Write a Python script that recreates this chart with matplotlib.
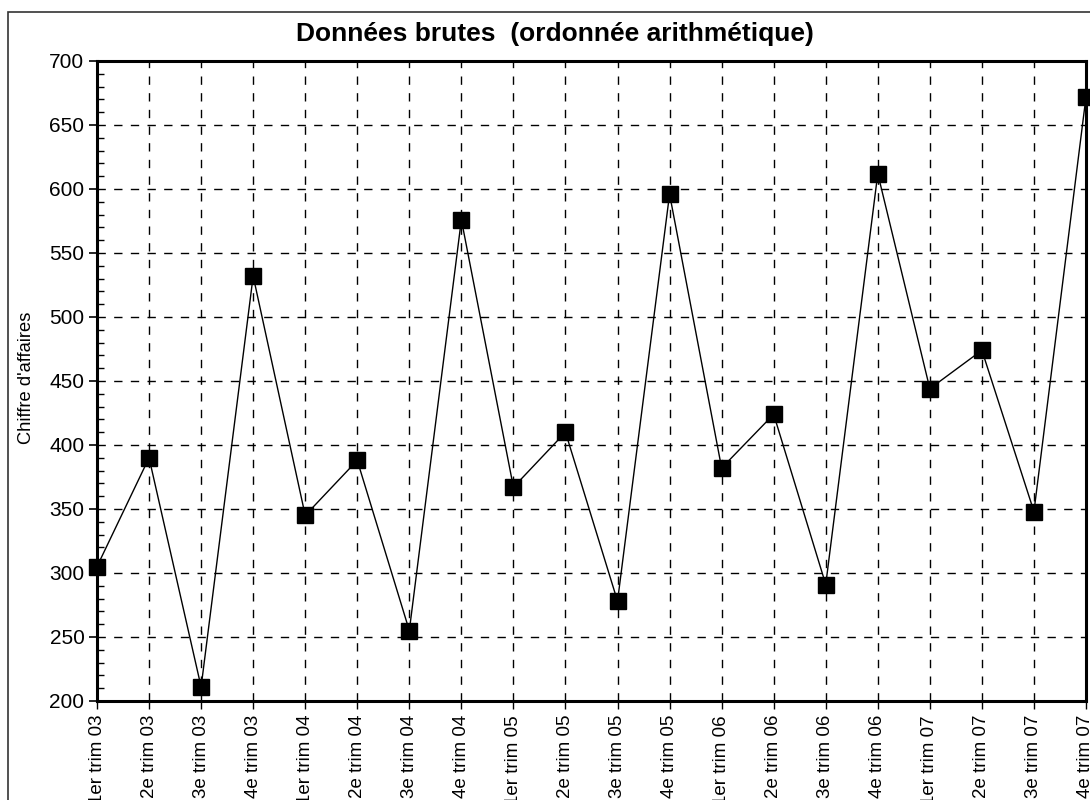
import matplotlib
matplotlib.use("Agg")
import matplotlib.pyplot as plt
from matplotlib.patches import Rectangle
from matplotlib.ticker import MultipleLocator

plt.rcParams['font.family'] = ['Liberation Sans', 'DejaVu Sans']

categories = ["1er trim 03", "2e trim 03", "3e trim 03", "4e trim 03",
              "1er trim 04", "2e trim 04", "3e trim 04", "4e trim 04",
              "1er trim 05", "2e trim 05", "3e trim 05", "4e trim 05",
              "1er trim 06", "2e trim 06", "3e trim 06", "4e trim 06",
              "1er trim 07", "2e trim 07", "3e trim 07", "4e trim 07"]
values = [305, 390, 211, 532,
          345, 388, 255, 576,
          367, 410, 278, 596,
          382, 424, 291, 612,
          444, 474, 348, 672]

title = "Données brutes  (ordonnée arithmétique)"
ylabel = "Chiffre d'affaires"

fig = plt.figure(figsize=(10.9, 8.0), dpi=100)
fig.patches.append(Rectangle((8 / 1090, -0.1), 1.2, 1 - 12 / 800 + 0.1,
                             transform=fig.transFigure, fill=False,
                             edgecolor='#333333', linewidth=1.2))

ax = fig.add_axes([97 / 1090, 1 - 701 / 800, (1086 - 97) / 1090, (701 - 61) / 800])
x = list(range(len(categories)))
ax.plot(x, values, color='black', linewidth=1.0, marker='s', markersize=11,
        markerfacecolor='black', markeredgecolor='black', clip_on=False, zorder=5)

ax.set_xlim(0, len(categories) - 1)
ax.set_ylim(200, 700)
ax.yaxis.set_major_locator(MultipleLocator(50))
ax.yaxis.set_minor_locator(MultipleLocator(10))
ax.set_xticks(x)
ax.set_xticklabels(categories, rotation=90, fontsize=13.5)
ax.tick_params(axis='y', which='major', direction='out', length=6, width=1.2, labelsize=15, pad=3)
ax.tick_params(axis='y', which='minor', direction='in', length=5, width=1.0)
ax.tick_params(axis='x', which='major', direction='out', length=6, width=1.0, pad=4)

ax.grid(True, which='major', axis='both', color='black', linestyle=(0, (6, 6)), linewidth=1.0)
for s in ax.spines.values():
    s.set_linewidth(2.2)
    s.set_color('black')

ax.set_ylabel(ylabel, fontsize=13.2)
ax.yaxis.set_label_coords(-62 / 989, 0.505)
fig.text(555 / 1090, 1 - 34 / 800, title, ha='center', va='center',
         fontsize=19, fontweight='bold')

fig.savefig("out.png", dpi=100)
